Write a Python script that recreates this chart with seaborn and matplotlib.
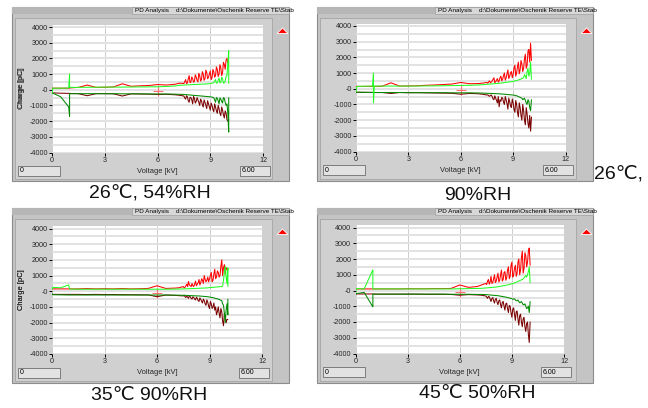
import matplotlib
matplotlib.use('Agg')
import matplotlib.pyplot as plt
from matplotlib.patches import Rectangle, Polygon
from matplotlib.ticker import MultipleLocator
import pandas as pd
import seaborn as sns

# ---------------- data ----------------
VOLTAGE_KV = [0.0, 0.05, 0.5, 0.95, 1.0, 1.0, 1.05, 1.5, 2.0, 2.5,
              3.0, 3.5, 4.0, 4.5, 5.0, 5.5, 6.0, 6.5, 7.0, 7.25,
              7.5, 7.55, 7.6, 7.65, 7.7, 7.75, 7.8, 7.85, 7.9, 7.95,
              8.0, 8.05, 8.1, 8.15, 8.2, 8.25, 8.3, 8.35, 8.4, 8.45,
              8.5, 8.55, 8.6, 8.65, 8.7, 8.75, 8.8, 8.85, 8.9, 8.95,
              9.0, 9.05, 9.1, 9.15, 9.2, 9.25, 9.3, 9.35, 9.4, 9.45,
              9.5, 9.55, 9.6, 9.65, 9.7, 9.75, 9.8, 9.85, 9.9, 9.95,
              10.0, 10.05, 10.05]

# Panel 1: 26C 54%RH
P1_RED = [100, 100, 100, 100, 100, 100, 120, 150, 300, 150, 160, 180, 380, 220, 250, 270, 330, 300, 350, 420,
          400, 520, 650, 380, 450, 700, 900, 450, 500, 820, 700, 480, 550, 950, 800, 600, 500, 1050, 900, 550,
          650, 1150, 1000, 600, 700, 1250, 1100, 700, 800, 1000, 1200, 650, 750, 1300, 1150, 800, 900, 1450, 1300, 850,
          1000, 1600, 1400, 900, 1100, 1750, 1600, 1300, 1900, 2000, 1700,
          1700, 1700]
P1_LIME = [-250, 100, 100, 110, 1000, 150, 150, 150, 160, 160, 170, 170, 170, 175, 180, 185, 190, 210, 240, 280,
           300, 302, 305, 308, 310, 312, 315, 318, 320, 325, 330, 332, 335, 338, 340, 342, 345, 348, 350, 352,
           355, 358, 360, 362, 365, 368, 370, 375, 380, 390, 400, 410, 420, 430, 450, 550, 650, 420, 430, 600,
           750, 440, 460, 800, 700, 420, 450, 550, 850, 900, 1700,
           2500, 400]
P1_DRED = [-200, -200, -220, -230, -230, -230, -240, -250, -380, -250, -250, -260, -400, -260, -270, -280, -300, -290, -320, -350,
           -400, -520, -600, -380, -450, -700, -800, -480, -500, -650, -900, -420, -550, -850, -750, -500, -650, -800, -1000, -600,
           -700, -950, -1100, -650, -800, -1000, -1200, -700, -900, -1100, -1300, -850, -1000, -1250, -1400, -900, -1100, -1350, -1500, -1000,
           -1200, -1500, -1650, -1100, -1300, -1600, -1800, -1350, -1500, -1900, -2000,
           -1900, -1900]
P1_DGRN = [-200, -220, -450, -1100, -1700, -250, -250, -250, -250, -250, -250, -250, -260, -260, -260, -270, -270, -270, -280, -290,
           -300, -305, -310, -315, -320, -325, -330, -335, -340, -345, -350, -355, -360, -365, -370, -375, -380, -385, -390, -395,
           -400, -405, -410, -415, -420, -425, -430, -435, -440, -445, -450, -460, -470, -480, -500, -650, -800, -500, -550, -700,
           -900, -520, -600, -750, -850, -500, -550, -800, -1000, -900, -1500,
           -2700, -500]

# Panel 2: 26C 90%RH
P2_RED = [150, 150, 150, 150, 150, 150, 150, 160, 380, 170, 180, 190, 220, 240, 270, 300, 400, 320, 330, 360,
          400, 350, 450, 500, 380, 420, 500, 600, 700, 380, 450, 550, 650, 420, 500, 700, 800, 500, 600, 850,
          1000, 550, 700, 950, 1200, 650, 800, 1000, 1100, 700, 900, 1300, 1500, 800, 1000, 1400, 1700, 950, 1200, 1800,
          1600, 1100, 1300, 1900, 2200, 1300, 1500, 2400, 2500, 1700, 2900,
          1800, 1800]
P2_LIME = [-200, 150, 160, 170, 1000, -900, 170, 170, 170, 170, 170, 175, 180, 185, 190, 200, 210, 220, 240, 260,
           280, 285, 290, 295, 300, 305, 310, 315, 320, 325, 330, 335, 340, 345, 350, 355, 360, 370, 380, 390,
           400, 405, 410, 415, 420, 430, 440, 445, 450, 460, 470, 485, 500, 510, 520, 540, 560, 580, 600, 620,
           650, 680, 700, 900, 800, 650, 1100, 1300, 800, 1000, 1700,
           600, 600]
P2_DRED = [-230, -230, -230, -230, -230, -230, -240, -240, -300, -240, -250, -250, -260, -270, -280, -290, -350, -300, -320, -350,
           -400, -380, -450, -480, -420, -400, -500, -650, -700, -450, -600, -750, -900, -500, -1150, -700, -800, -550, -600, -850,
           -1000, -500, -700, -950, -1300, -600, -800, -1100, -1200, -650, -900, -1300, -1500, -750, -1000, -1500, -1800, -900, -1200, -1700,
           -2000, -1000, -1400, -2000, -2300, -1200, -1600, -2200, -2500, -1700, -2700,
           -1800, -1800]
P2_DGRN = [-220, -220, -230, -240, -240, -240, -240, -240, -240, -240, -250, -250, -250, -250, -250, -260, -260, -260, -270, -280,
           -290, -290, -290, -295, -300, -300, -300, -305, -310, -310, -310, -315, -320, -320, -320, -325, -330, -335, -340, -345,
           -350, -355, -360, -365, -370, -375, -380, -385, -390, -395, -400, -410, -420, -435, -450, -470, -500, -520, -550, -580,
           -600, -700, -650, -600, -750, -900, -1000, -700, -800, -1200, -1400,
           -700, -700]

# Panel 3: 35C 90%RH
P3_RED = [150, 150, 150, 150, 150, 150, 150, 150, 170, 150, 160, 150, 170, 150, 160, 180, 350, 180, 200, 220,
          300, 220, 250, 350, 450, 300, 620, 400, 350, 300, 500, 350, 300, 450, 650, 350, 450, 550, 750, 400,
          550, 800, 700, 500, 1000, 750, 600, 700, 900, 600, 800, 1000, 1200, 600, 700, 1100, 1400, 800, 900, 1300,
          1200, 900, 1000, 1600, 2000, 1000, 1500, 1700, 1100, 1500, 1400,
          1400, 1400]
P3_LIME = [100, 250, 220, 400, 150, 150, 140, 130, 130, 130, 130, 130, 130, 130, 130, 130, 130, 130, 140, 140,
           150, 150, 150, 152, 155, 158, 160, 162, 165, 168, 170, 172, 175, 178, 180, 182, 185, 188, 190, 192,
           195, 198, 200, 202, 205, 208, 210, 215, 220, 225, 230, 235, 240, 245, 250, 255, 260, 265, 270, 275,
           280, 285, 290, 295, 300, 320, 700, 1200, 1600, 900, 500,
           1500, 300]
P3_DRED = [-200, -200, -200, -200, -200, -200, -200, -200, -210, -200, -210, -210, -220, -220, -230, -230, -350, -240, -260, -280,
           -300, -250, -350, -400, -300, -380, -450, -300, -350, -450, -500, -350, -400, -500, -550, -380, -450, -600, -650, -420,
           -500, -650, -750, -500, -600, -800, -900, -550, -700, -950, -1100, -650, -800, -1100, -1000, -750, -1200, -1000, -1500, -1300,
           -1000, -1400, -1700, -1100, -1300, -1900, -2200, -1400, -1600, -2000, -1800,
           -1800, -1800]
P3_DGRN = [-150, -220, -230, -240, -240, -240, -240, -240, -240, -240, -240, -240, -240, -240, -240, -240, -240, -240, -250, -250,
           -260, -260, -260, -265, -270, -270, -270, -275, -280, -280, -280, -285, -290, -290, -290, -295, -300, -300, -300, -305,
           -310, -315, -320, -325, -330, -335, -340, -345, -350, -360, -370, -380, -390, -400, -410, -425, -440, -455, -470, -485,
           -500, -520, -550, -580, -600, -800, -900, -1400, -2000, -1200, -800,
           -1500, -500]

# Panel 4: 45C 50%RH
P4_RED = [100, 100, 100, 100, 100, 100, 100, 100, 100, 100, 110, 110, 110, 120, 120, 130, 350, 200, 250, 350,
          450, 380, 600, 700, 400, 550, 900, 450, 500, 750, 1000, 500, 600, 850, 1100, 550, 650, 1000, 1300, 600,
          700, 1150, 1200, 650, 800, 1300, 1500, 750, 900, 1600, 1800, 850, 1000, 1400, 1600, 900, 1100, 1800, 2000, 1000,
          1300, 2100, 2500, 1100, 1400, 2400, 2200, 1500, 1800, 2500, 2700,
          1600, 1600]
P4_LIME = [-150, 120, 100, 1200, 1300, 100, 100, 100, 100, 100, 100, 100, 100, 100, 100, 100, 110, 120, 130, 140,
           160, 165, 170, 175, 180, 185, 190, 195, 200, 205, 210, 215, 220, 230, 240, 250, 260, 270, 280, 290,
           300, 310, 320, 330, 340, 355, 370, 385, 400, 415, 430, 445, 460, 480, 500, 525, 550, 575, 600, 625,
           650, 680, 700, 750, 800, 880, 950, 850, 1000, 1200, 1500,
           500, 500]
P4_DRED = [-220, -220, -220, -220, -220, -220, -230, -230, -230, -230, -230, -230, -240, -240, -240, -250, -300, -260, -280, -300,
           -350, -420, -500, -380, -400, -550, -700, -500, -450, -650, -800, -550, -500, -750, -900, -650, -600, -900, -1100, -750,
           -700, -1000, -1250, -850, -800, -1150, -1400, -950, -1000, -1400, -1700, -1200, -1100, -1500, -1900, -1350, -1300, -1800, -2200, -1600,
           -1500, -2000, -2300, -1800, -1700, -2300, -2600, -2100, -2000, -2800, -3300,
           -2000, -2000]
P4_DGRN = [-200, -200, -120, -950, -1030, -230, -230, -230, -230, -230, -230, -230, -230, -230, -230, -240, -240, -240, -250, -250,
           -260, -265, -270, -275, -280, -285, -290, -295, -300, -305, -310, -315, -320, -325, -330, -340, -350, -360, -370, -380,
           -390, -400, -410, -420, -430, -445, -460, -475, -490, -505, -520, -560, -550, -520, -600, -650, -650, -600, -700, -780,
           -750, -700, -800, -900, -900, -850, -1000, -1150, -1100, -1000, -1400,
           -700, -700]

PANELS = [
    {"red": P1_RED, "lime": P1_LIME, "dred": P1_DRED, "dgrn": P1_DGRN},
    {"red": P2_RED, "lime": P2_LIME, "dred": P2_DRED, "dgrn": P2_DGRN},
    {"red": P3_RED, "lime": P3_LIME, "dred": P3_DRED, "dgrn": P3_DGRN},
    {"red": P4_RED, "lime": P4_LIME, "dred": P4_DRED, "dgrn": P4_DGRN},
]
CURSOR_KV = 6.0
CURSOR_PC = -100

Y_TICKS = [-4000, -3000, -2000, -1000, 0, 1000, 2000, 3000, 4000]
Y_TICK_LABELS = ['-4000', '-3000', '-2000', '-1000', '-0', '1000', '2000', '3000', '4000']
X_TICKS = [0, 3, 6, 9, 12]
X_TICK_LABELS = ['0', '3', '6', '9', '12']
WINDOW_TITLE = r'PD Analysis    d:\Dokumente\Oschenik Reserve TE\Stab'
CAPTIONS = [
    [("26℃, 54%RH", 150, 193, 'center')],
    [("26℃,", 594, 174, 'left'), ("90%RH", 478, 196, 'center')],
    [("35℃ 90%RH", 149, 395, 'center')],
    [("45℃ 50%RH", 477, 394, 'center')],
]

# ---------------- layout (pixels) ----------------
W, H = 648, 408
LAYOUT = [
    dict(frame=(12, 7, 289, 181), split=132, plot=(52, 263, 27, 152.5)),
    dict(frame=(317, 7, 593, 181), split=435, plot=(356, 565.5, 26, 151.5)),
    dict(frame=(12, 208, 289, 383), split=132, plot=(52, 262, 228.5, 354)),
    dict(frame=(317, 208, 593, 383), split=435, plot=(355.5, 564, 227.5, 353.5)),
]
YMIN, YMAX = -4000, 4150
SERIES_ORDER = ["dred", "red", "dgrn", "lime"]
PALETTE = {"red": "#ff0000", "lime": "#22ff22", "dred": "#7a0000", "dgrn": "#008a00"}

for p in PANELS:
    for k in p:
        assert len(p[k]) == len(VOLTAGE_KV), (k, len(p[k]))

sns.set_theme(style='white')
plt.rcParams['font.family'] = ['Liberation Sans', 'DejaVu Sans', 'Noto Sans CJK SC']

fig = plt.figure(figsize=(W / 100, H / 100), dpi=100)
fig.patch.set_facecolor('white')
bg = fig.add_axes([0, 0, 1, 1])
bg.set_xlim(0, W)
bg.set_ylim(H, 0)
bg.axis('off')

small = dict(fontsize=5.0, color='black', va='center')

for i, lay in enumerate(LAYOUT):
    fx0, fy0, fx1, fy1 = lay['frame']
    split = lay['split']
    px0, px12, py4, pym4 = lay['plot']

    # window frame
    bg.add_patch(Rectangle((fx0, fy0), fx1 - fx0, fy1 - fy0, fc='#c4c4c4', ec='#8c8c8c', lw=0.8))
    bg.add_patch(Rectangle((fx0, fy0), split - fx0, 7, fc='#b6b6b6', ec='none'))
    bg.add_patch(Rectangle((split, fy0), fx1 - split, 7, fc='#d8d8d8', ec='#a0a0a0', lw=0.5))
    t = bg.text(split + 3, fy0 + 3.7, WINDOW_TITLE, fontsize=4.6, color='black', va='center', ha='left')
    clip = Rectangle((split, fy0), fx1 - split, 7, transform=bg.transData)
    t.set_clip_path(clip)
    bg.add_patch(Rectangle((fx0 + 3, fy0 + 11), (fx1 - 17) - (fx0 + 3), (fy1 - 2) - (fy0 + 11),
                           fc='#d0d0d0', ec='#a4a4a4', lw=0.6))
    tx0 = fx1 - 12
    ty = fy0 + 21
    bg.add_patch(Polygon([[tx0, ty + 5.5], [tx0 + 11, ty + 5.5], [tx0 + 5.5, ty]],
                         closed=True, fc='#ff0000', ec='white', lw=0.6))
    by = pym4 + 13.5
    bg.add_patch(Rectangle((fx0 + 6, by), 42, 10, fc='#e2e2e2', ec='#6e6e6e', lw=0.6))
    bg.text(fx0 + 8, by + 5, '0', ha='left', **small)
    bg.add_patch(Rectangle((px12 - 23, by), 30, 10, fc='#e2e2e2', ec='#6e6e6e', lw=0.6))
    bg.text(px12 - 21, by + 5, '6.00', ha='left', **small)

    for txt, cx, cy, ha in CAPTIONS[i]:
        bg.text(cx, cy, txt, fontsize=14, ha=ha, va='center', color='#111111',
                family=['Liberation Sans', 'DejaVu Sans', 'Noto Sans CJK SC'])

    # plot axes
    scale = (pym4 - py4) / 8000.0
    ptop = py4 - (YMAX - 4000) * scale
    rect = [px0 / W, 1 - pym4 / H, (px12 - px0) / W, (pym4 - ptop) / H]
    ax = fig.add_axes(rect)
    ax.set_facecolor('white')

    rows = []
    for key in SERIES_ORDER:
        for kv, pc in zip(VOLTAGE_KV, PANELS[i][key]):
            rows.append((kv, pc, key))
    df = pd.DataFrame(rows, columns=['kV', 'pC', 'series'])
    sns.lineplot(data=df, x='kV', y='pC', hue='series', hue_order=SERIES_ORDER, palette=PALETTE,
                 sort=False, estimator=None, legend=False, lw=0.75, ax=ax)
    sns.scatterplot(x=[CURSOR_KV], y=[CURSOR_PC], marker='+', s=55, color='#ff7070',
                    linewidth=0.8, ax=ax, legend=False)

    ax.set_xlim(0, 12)
    ax.set_ylim(YMIN, YMAX)
    ax.set_xticks(X_TICKS, X_TICK_LABELS)
    ax.set_yticks(Y_TICKS, Y_TICK_LABELS)
    ax.yaxis.set_minor_locator(MultipleLocator(500))
    ax.grid(False)
    ax.grid(True, axis='y', which='both', color='#e2e2e2', lw=1.4)
    ax.grid(True, axis='x', which='major', color='#cdcdcd', lw=0.7)
    ax.set_axisbelow(True)
    for s in ax.spines.values():
        s.set_visible(False)
    ax.tick_params(axis='both', which='major', direction='out', length=2.5, width=0.7,
                   color='black', labelsize=5.2, pad=0.6, left=True, bottom=True)
    ax.tick_params(axis='y', which='minor', length=0)
    ax.set_xlabel('Voltage [kV]', fontsize=5.4)
    ax.set_ylabel('Charge [pC]', fontsize=5.4)
    axw = px12 - px0
    axh = pym4 - ptop
    ax.xaxis.set_label_coords(0.5, -(168 - 152.5) / axh)
    ax.yaxis.set_label_coords(-(px0 - 25) / axw, 0.5)

fig.savefig('out.png', dpi=100, facecolor='white')
